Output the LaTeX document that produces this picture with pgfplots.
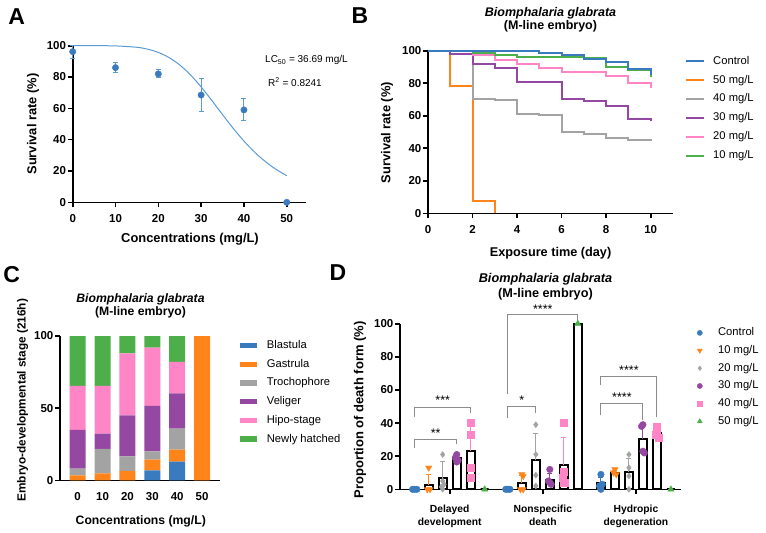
\documentclass[border=0pt]{standalone}
\usepackage{fontspec}
\setmainfont{Liberation Sans}
\usepackage{pgfplots}
\pgfplotsset{compat=1.18}

% palette
\definecolor{cBlue}{HTML}{3A7BBF}
\definecolor{cLBlue}{HTML}{5B9BD5}
\definecolor{cOrange}{HTML}{FF8419}
\definecolor{cGray}{HTML}{A3A3A3}
\definecolor{cPurple}{HTML}{9548A2}
\definecolor{cPink}{HTML}{FF85C6}
\definecolor{cGreen}{HTML}{4DAF4A}
\definecolor{cBrk}{HTML}{8C8C8C}

\newcommand{\fs}[2]{\fontsize{#1}{#2}\selectfont}

\pgfplotsset{
  gp/.style={
    scale only axis, anchor=south west, clip=false,
    axis lines*=left,
    axis line style={line width=1.6bp, black},
    tick align=outside,
    major tick length=5bp,
    every tick/.style={black, line width=1.6bp},
    /pgf/number format/assume math mode=true,
    tick label style={font=\bfseries\fs{11.5bp}{13bp}},
    xticklabel style={inner sep=1bp, yshift=-6bp},
    yticklabel style={inner sep=1.5bp},
    legend cell align=left,
  },
  gplegend/.style={draw=none, fill=none, anchor=north west, inner sep=0pt,
    font=\fs{11.2bp}{13bp},
    nodes={inner sep=0pt, text height=8.5bp, text depth=2.5bp}},
  cpatch/.style={fill=#1, draw=none,
    legend image code/.code={\fill[#1] (0bp,-2.7bp) rectangle (17bp,2.7bp);}},
  dbar/.style={forget plot, ybar, bar shift=0pt, bar width=8bp, draw=black,
    fill=white, line width=2.2bp,
    error bars/y dir=plus, error bars/y explicit,
    error bars/error bar style={#1, line width=1bp},
    error bars/error mark options={#1, line width=1bp, mark size=2.5bp, rotate=90}},
}

\begin{document}
\begin{tikzpicture}[lab/.style={inner sep=0pt, anchor=center}]
\useasboundingbox (0,0) rectangle (766bp,-533bp);

% ---------------- A: concentration-response ----------------
\begin{axis}[gp, at={(72.7bp,-202.3bp)}, width=233.3bp, height=156.6bp,
  xmin=0, xmax=54.5, ymin=0, ymax=100,
  xtick={0,10,20,30,40,50}, ytick={0,20,40,60,80,100}]
\addplot[cLBlue, line width=1bp, smooth] coordinates {
  (0,100) (5,100) (10,99.87) (15,98.98) (17.5,97.79) (20,95.71) (22.5,92.44)
  (25,87.70) (27.5,81.41) (30,73.69) (32.5,65.05) (35,56.01) (37.5,47.2)
  (40,39.12) (42.5,32.02) (45,26.01) (47.5,21.05) (50,17.0)};
\addplot[cBlue, only marks, mark=*, mark size=3.2bp,
  error bars/.cd, y dir=both, y explicit,
  error bar style={cLBlue, line width=1bp},
  error mark options={cLBlue, line width=1bp, mark size=2.5bp, rotate=90}]
  coordinates {(0,96.2) +- (0,4.2) (10,86) +- (0,3.3) (20,82) +- (0,2.6)
               (30,68.5) +- (0,10.5) (40,59) +- (0,7) (50,0) +- (0,0)};
\end{axis}

% ---------------- B: survival over time ----------------
\begin{axis}[gp, at={(428bp,-213.3bp)}, width=245bp, height=162.6bp,
  xmin=0, xmax=11, ymin=0, ymax=100,
  xtick={0,2,4,6,8,10}, ytick={0,20,40,60,80,100},
  legend image code/.code={\draw[#1] (0bp,0bp) -- (18bp,0bp);},
  legend style={gplegend, at={(1.049,0.9705)}, row sep=7.9bp, column sep=8bp}]
\addlegendimage{cBlue, line width=2bp}\addlegendentry{Control}
\addlegendimage{cOrange, line width=2bp}\addlegendentry{50 mg/L}
\addlegendimage{cGray, line width=2bp}\addlegendentry{40 mg/L}
\addlegendimage{cPurple, line width=2bp}\addlegendentry{30 mg/L}
\addlegendimage{cPink, line width=2bp}\addlegendentry{20 mg/L}
\addlegendimage{cGreen, line width=2bp}\addlegendentry{10 mg/L}
\addplot[forget plot, const plot, cOrange, line width=2bp] coordinates {
  (0,100) (1,78.5) (2,7.7) (3,0)};
\addplot[forget plot, const plot, cGray, line width=2bp] coordinates {
  (0,100) (1,98.2) (2,70.5) (3,69.5) (4,61.3) (5,60.5) (6,50) (7,48.5)
  (8,46.3) (9,45.3) (10,44.5)};
\addplot[forget plot, const plot, cPurple, line width=2bp] coordinates {
  (0,100) (1,98.2) (2,91.8) (3,89.4) (4,80.5) (6,70.1) (7,69.1) (8,66.2)
  (9,58.2) (10,56.8)};
\addplot[forget plot, const plot, cPink, line width=2bp] coordinates {
  (0,100) (2,97.5) (3,94.3) (4,91.8) (5,89.1) (6,86.8) (8,84.4) (9,79.9)
  (10,77.2)};
\addplot[forget plot, const plot, cGreen, line width=2bp] coordinates {
  (0,100) (2,98.8) (3,97.1) (4,95.9) (7,95.5) (8,90.2) (9,88.1) (10,83.6)};
\addplot[forget plot, const plot, cBlue, line width=2bp] coordinates {
  (0,100) (5,98.3) (6,97.3) (7,95) (8,93) (9,88.5) (10,85)};
\end{axis}

% ---------------- C: developmental stages ----------------
\begin{axis}[gp, at={(60bp,-480.3bp)}, width=160bp, height=144.3bp,
  xmin=-0.71, xmax=5.72, ymin=0, ymax=100,
  ybar stacked, bar width=16bp,
  xtick={0,1,2,3,4,5}, xticklabels={0,10,20,30,40,50}, ytick={0,50,100},
  xtick style={draw=none},
  legend style={gplegend, at={(1.125,0.9737)}, row sep=7.7bp, column sep=9.7bp}]
\addplot[cpatch=cBlue] coordinates {(0,0) (1,0) (2,0) (3,6.9) (4,12.9) (5,0)};
\addlegendentry{Blastula}
\addplot[cpatch=cOrange] coordinates {(0,3.5) (1,4.8) (2,6.5) (3,7.4) (4,8.3) (5,100)};
\addlegendentry{Gastrula}
\addplot[cpatch=cGray] coordinates {(0,4.6) (1,16.9) (2,10.1) (3,5.8) (4,14.6) (5,0)};
\addlegendentry{Trochophore}
\addplot[cpatch=cPurple] coordinates {(0,26.8) (1,10.6) (2,28.4) (3,31.4) (4,24.5) (5,0)};
\addlegendentry{Veliger}
\addplot[cpatch=cPink] coordinates {(0,30.5) (1,33.1) (2,43.0) (3,40.4) (4,21.7) (5,0)};
\addlegendentry{Hipo-stage}
\addplot[cpatch=cGreen] coordinates {(0,34.6) (1,34.6) (2,12.0) (3,8.1) (4,18.0) (5,0)};
\addlegendentry{Newly hatched}
\end{axis}

% ---------------- D: forms of death ----------------
\begin{axis}[gp, at={(400bp,-489.3bp)}, width=281bp, height=165.6bp,
  xmin=-3.55, xmax=16.52, ymin=0, ymax=100,
  xtick={0,6.65,13.3},
  xticklabels={Delayed\\development, Nonspecific\\death, Hydropic\\degeneration},
  xticklabel style={align=center, font=\bfseries\fs{10.3bp}{12.3bp}, yshift=-4bp},
  ytick={0,20,40,60,80,100},
  legend image code/.code={\path[draw=none, fill=none] (0bp,0bp) -- (17bp,0bp);
    \draw[#1, draw opacity=0] plot coordinates {(8.5bp,0bp)};},
  legend style={gplegend, at={(1.036,0.979)}, row sep=6.7bp, column sep=9.8bp}]
\addlegendimage{only marks, mark=*, mark size=2.6bp, cBlue, mark options={draw opacity=1}}\addlegendentry{Control}
\addlegendimage{only marks, mark=triangle*, mark size=2.8bp, mark options={rotate=180, draw opacity=1}, cOrange}\addlegendentry{10 mg/L}
\addlegendimage{only marks, mark=diamond*, mark size=2.3bp, cGray, mark options={draw opacity=1}}\addlegendentry{20 mg/L}
\addlegendimage{only marks, mark=*, mark size=2.6bp, cPurple, mark options={draw opacity=1}}\addlegendentry{30 mg/L}
\addlegendimage{only marks, mark=square*, mark size=2.5bp, cPink, mark options={draw opacity=1}}\addlegendentry{40 mg/L}
\addlegendimage{only marks, mark=triangle*, mark size=2.8bp, cGreen, mark options={draw opacity=1}}\addlegendentry{50 mg/L}
% mean bars with SD
\addplot[dbar=cBlue] coordinates {(-2.5,0) +- (0,0) (4.15,0) +- (0,0) (10.8,3.5) +- (0,3.8)};
\addplot[dbar=cOrange] coordinates {(-1.5,2.6) +- (0,6.4) (5.15,3.6) +- (0,4.5) (11.8,10) +- (0,1.5)};
\addplot[dbar=cGray] coordinates {(-0.5,7) +- (0,9.5) (6.15,17.5) +- (0,16.5) (12.8,10.5) +- (0,8)};
\addplot[dbar=cPurple] coordinates {(0.5,18.9) +- (0,1.8) (7.15,5.4) +- (0,4) (13.8,30.2) +- (0,8.5)};
\addplot[dbar=cPink] coordinates {(1.5,22.9) +- (0,17) (8.15,14.5) +- (0,17) (14.8,33.8) +- (0,3)};
\addplot[dbar=cGreen] coordinates {(2.5,0) +- (0,0) (9.15,100) +- (0,0) (15.8,0) +- (0,0)};
% replicates
\addplot[forget plot, only marks, mark=*, mark size=3.3bp, cBlue] coordinates {
  (-2.65,0) (-2.35,0) (-2.5,0) (4.0,0) (4.3,0) (4.15,0)
  (10.8,9) (10.9,3) (10.7,2) (10.8,0)};
\addplot[forget plot, only marks, mark=triangle*, mark size=3.6bp, mark options={rotate=180}, cOrange] coordinates {
  (-1.5,13) (-1.6,0) (-1.4,0) (5.15,9) (5.25,8) (5.05,0) (5.25,0)
  (11.8,12) (11.7,10) (11.9,9)};
\addplot[forget plot, only marks, mark=diamond*, mark size=3bp, cGray] coordinates {
  (-0.5,21) (-0.5,5) (-0.4,3) (-0.6,1.5) (-0.5,0)
  (6.15,39) (6.15,21) (6.15,8.5) (6.15,2)
  (12.8,21) (12.8,13) (12.8,8) (12.8,0)};
\addplot[forget plot, only marks, mark=*, mark size=3.3bp, cPurple] coordinates {
  (0.5,21) (0.4,19) (0.6,17.5) (0.5,16.5)
  (7.15,12) (7.05,5) (7.25,3) (7.15,4)
  (13.8,39) (13.7,38) (13.8,23) (13.9,22)};
\addplot[forget plot, only marks, mark=square*, mark size=3.4bp, cPink] coordinates {
  (1.5,40) (1.5,33) (1.5,13) (1.5,7)
  (8.15,40) (8.15,10.5) (8.05,7) (8.25,4) (8.15,4)
  (14.8,38) (14.8,36) (14.7,33) (14.9,31)};
\addplot[forget plot, only marks, mark=triangle*, mark size=3.6bp, cGreen] coordinates {
  (2.5,0) (9.15,100) (15.8,0)};
% significance brackets
\addplot[forget plot, cBrk, line width=0.9bp] coordinates {(-2.5,25) (-2.5,30.4) (0.5,30.4) (0.5,27.4)};
\addplot[forget plot, cBrk, line width=0.9bp] coordinates {(-2.5,43.5) (-2.5,49.5) (1.5,49.5) (1.5,46)};
\addplot[forget plot, cBrk, line width=0.9bp] coordinates {(4.15,43) (4.15,50.3) (6.15,50.3) (6.15,46)};
\addplot[forget plot, cBrk, line width=0.9bp] coordinates {(4.15,57.5) (4.15,105.4) (9.15,105.4) (9.15,101.8)};
\addplot[forget plot, cBrk, line width=0.9bp] coordinates {(10.8,63) (10.8,68) (14.8,68) (14.8,43.8)};
\addplot[forget plot, cBrk, line width=0.9bp] coordinates {(10.8,44.8) (10.8,51.9) (13.8,51.9) (13.8,41.8)};
\node[lab, font=\fs{12.5bp}{14bp}] at (axis cs:-1,34) {**};
\node[lab, font=\fs{12.5bp}{14bp}] at (axis cs:-0.5,53.7) {***};
\node[lab, font=\fs{12.5bp}{14bp}] at (axis cs:5.15,54.1) {*};
\node[lab, font=\fs{12.5bp}{14bp}] at (axis cs:6.65,109) {****};
\node[lab, font=\fs{12.5bp}{14bp}] at (axis cs:12.8,71.8) {****};
\node[lab, font=\fs{12.5bp}{14bp}] at (axis cs:12.3,55.7) {****};
\end{axis}

% ---------------- titles, axis labels, panel letters ----------------
\begin{scope}[every node/.style={lab}]
\node[font=\bfseries\fs{23bp}{26bp}] at (16.7bp,-17bp) {A};
\node[font=\bfseries\fs{23bp}{26bp}] at (360bp,-16bp) {B};
\node[font=\bfseries\fs{23bp}{26bp}] at (11.7bp,-275bp) {C};
\node[font=\bfseries\fs{23bp}{26bp}] at (338bp,-273bp) {D};

\node[font=\bfseries\fs{12.9bp}{15bp}] at (190bp,-239bp) {Concentrations (mg/L)};
\node[font=\bfseries\fs{12.9bp}{15bp}, rotate=90] at (33bp,-124bp) {Survival rate (\%)};
\node[font=\fs{10bp}{12bp}, anchor=west] at (265bp,-60bp) {LC\textsubscript{50} = 36.69 mg/L};
\node[font=\fs{10bp}{12bp}, anchor=west] at (268bp,-82bp) {R\textsuperscript{2} = 0.8241};

\node[font=\bfseries\itshape\fs{12.5bp}{14bp}] at (550.5bp,-13.3bp) {Biomphalaria glabrata};
\node[font=\bfseries\fs{12.5bp}{14bp}] at (550.5bp,-26.7bp) {(M-line embryo)};
\node[font=\bfseries\fs{12.7bp}{15bp}] at (550.6bp,-253.3bp) {Exposure time (day)};
\node[font=\bfseries\fs{12.9bp}{15bp}, rotate=90] at (387bp,-132.5bp) {Survival rate (\%)};

\node[font=\bfseries\itshape\fs{12.2bp}{14bp}] at (140.5bp,-299.3bp) {Biomphalaria glabrata};
\node[font=\bfseries\fs{12.2bp}{14bp}] at (140.5bp,-312.7bp) {(M-line embryo)};
\node[font=\bfseries\fs{12.2bp}{15bp}] at (140.8bp,-521bp) {Concentrations (mg/L)};
\node[font=\bfseries\fs{11.8bp}{14bp}, rotate=90] at (22.5bp,-400.2bp) {Embryo-developmental stage (216h)};

\node[font=\bfseries\itshape\fs{12.7bp}{14bp}] at (545.5bp,-279.3bp) {Biomphalaria glabrata};
\node[font=\bfseries\fs{12.7bp}{14bp}] at (545.5bp,-294.3bp) {(M-line embryo)};
\node[font=\bfseries\fs{13bp}{15bp}, rotate=90] at (360bp,-410bp) {Proportion of death form (\%)};
\end{scope}
\end{tikzpicture}
\end{document}
